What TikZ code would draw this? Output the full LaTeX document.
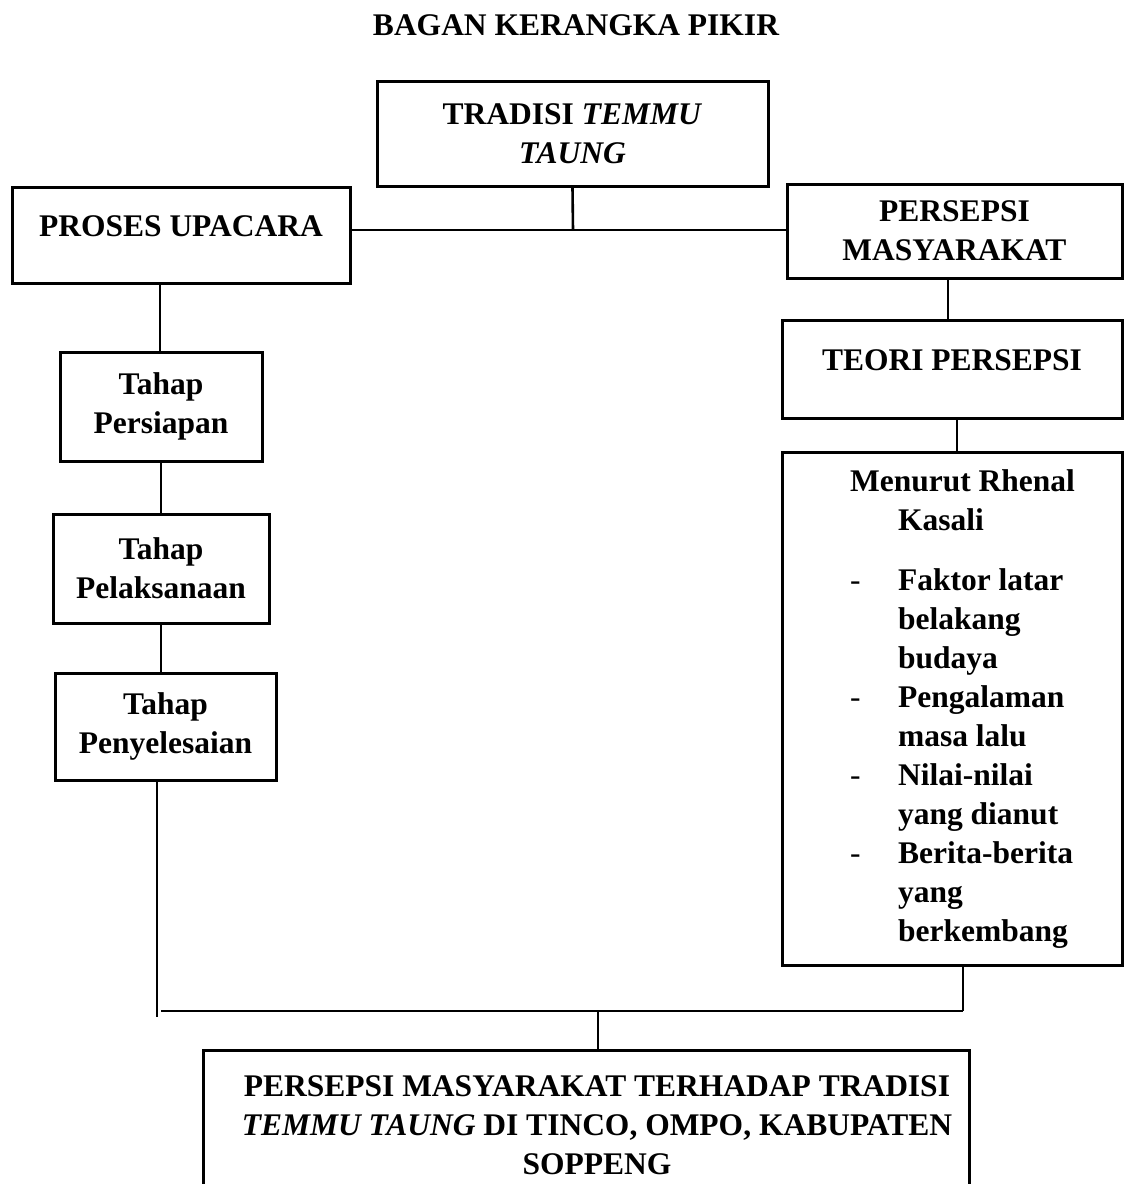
\documentclass[tikz,border=0pt]{standalone}
\usepackage{fontspec}
\setmainfont{Liberation Serif}
\usepackage{tikz}
\usetikzlibrary{positioning, calc}
\newcommand{\teks}{\fontsize{15.75pt}{19.5pt}\selectfont\bfseries}
\tikzset{
  block/.style={rectangle, draw=black, inner sep=0pt, align=center,
    font=\teks, line width=1.5pt},
  line/.style={line width=1.3pt, color=black}
}

\begin{document}
\begin{tikzpicture}[x=0.5pt, y=-0.5pt]
    \useasboundingbox (0,0) rectangle (1127,1184);

    % Title
    \node[font=\teks, inner sep=0pt] (title) at (576,25) {BAGAN KERANGKA PIKIR};

    % Top row
    \node[block, minimum width=195.5pt, minimum height=52.5pt] (tradisi) at (572.5,133.5) {TRADISI \textit{TEMMU}\\\textit{TAUNG}};
    \node[block, minimum width=169pt, text height=24.75pt, text depth=23.25pt] (proses) at (181,235) {PROSES UPACARA};
    \node[block, minimum width=167.5pt, minimum height=47pt] (persepsi) at (954.5,231) {PERSEPSI\\MASYARAKAT};

    % Left column: stages
    \node[block, minimum width=101pt, minimum height=54.5pt] (tahap1) at (161,406.5) {Tahap\\Persiapan};
    \node[block, minimum width=108pt, minimum height=54.5pt] (tahap2) at (161,568.5) {Tahap\\Pelaksanaan};
    \node[block, minimum width=110.5pt, minimum height=53.5pt] (tahap3) at (165.5,726.5) {Tahap\\Penyelesaian};

    % Right column: theory
    \node[block, minimum width=170pt, text height=25.25pt, text depth=23.75pt] (teori) at (952,369) {TEORI PERSEPSI};
    \node[block, minimum width=170pt, minimum height=256.5pt] (menurut) at (952,708.5) {%
      \begin{tabular}{@{\hspace{10.5pt}}p{24pt}@{}l@{}}
        \multicolumn{2}{@{\hspace{10.5pt}}l@{}}{Menurut Rhenal}\\
         & Kasali\\[10.5pt]
        \textmd{-} & Faktor latar\\
         & belakang\\
         & budaya\\
        \textmd{-} & Pengalaman\\
         & masa lalu\\
        \textmd{-} & Nilai-nilai\\
         & yang dianut\\
        \textmd{-} & Berita-berita\\
         & yang\\
         & berkembang
      \end{tabular}};

    % Result
    \node[block, minimum width=383pt, minimum height=78pt] (akhir) at (586,1128) {%
      \begin{tabular}{@{\hspace{11pt}}c@{}}
        PERSEPSI MASYARAKAT TERHADAP TRADISI\\
        \textit{TEMMU TAUNG} DI TINCO, OMPO, KABUPATEN\\
        SOPPENG
      \end{tabular}};

    % Connectors
    \coordinate (temu) at (573,230);
    \draw[line] (tradisi.south) -- (temu);
    \draw[line] (proses.east |- temu) -- (temu -| persepsi.west);

    \draw[line] (proses.south -| 160,0) -- (tahap1.north -| 160,0);
    \draw[line] (tahap1) -- (tahap2);
    \draw[line] (tahap2.south) -- (tahap2.south |- tahap3.north);

    \draw[line] (persepsi.south -| 948,0) -- (teori.north -| 948,0);
    \draw[line] (teori.south -| 957,0) -- (menurut.north -| 957,0);

    \coordinate (kiri) at (157,1017);
    \coordinate (sudut) at (161,1011);
    \coordinate (kanan) at (963,1011);
    \coordinate (tengah) at (598,1011);
    \draw[line] (tahap3.south -| kiri) -- (kiri);
    \draw[line] (sudut) -- (kanan);
    \draw[line] (menurut.south -| kanan) -- (kanan);
    \draw[line] (tengah) -- (tengah |- akhir.north);
\end{tikzpicture}
\end{document}
